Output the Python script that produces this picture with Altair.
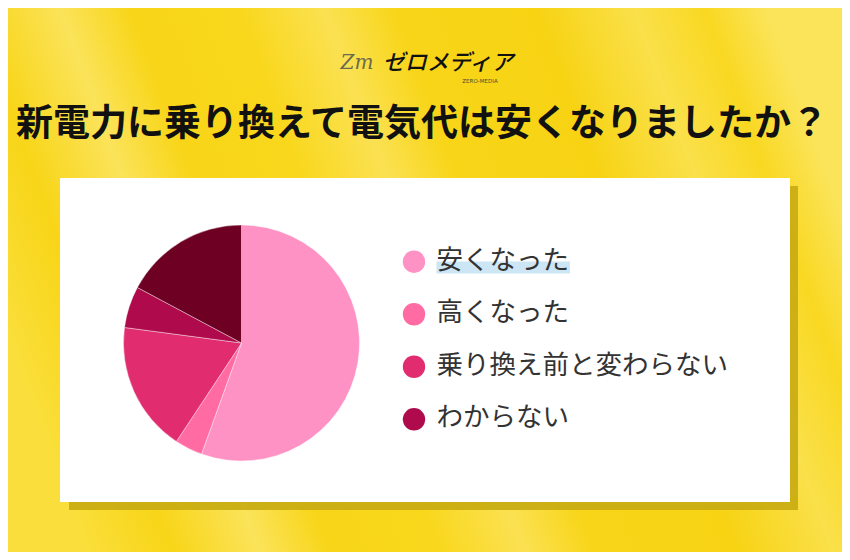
import altair as alt
import pandas as pd

# ---- data ----
categories = ["安くなった", "高くなった", "乗り換え前と変わらない", "わからない", "その他"]
shares = [55.5, 3.8, 17.8, 5.7, 17.2]
slice_colors = ["#FF92C4", "#FF6BA2", "#E12C70", "#AF0A4B", "#6D0023"]
legend_labels = ["安くなった", "高くなった", "乗り換え前と変わらない", "わからない"]
title_text = ["新電力に乗り換えて電気代は安くなりましたか？"]
logo_text = ["ゼロメディア"]
logo_mark = ["Zm"]
logo_sub = ["ZERO-MEDIA"]

pie_df = pd.DataFrame({"category": categories, "share": shares, "idx": list(range(len(categories)))})
legend_df = pd.DataFrame({"category": legend_labels})
one = pd.DataFrame({"a": [0]})

W, H = 834, 544
FONT = "Noto Sans CJK JP"

color_scale = alt.Scale(domain=categories, range=slice_colors)

# ---- background ----
stops = [
    (0.00, "#FADF3C"), (0.10, "#F8D518"), (0.20, "#FBE35A"), (0.28, "#F8D518"),
    (0.40, "#F9D71C"), (0.50, "#FBE152"), (0.58, "#F8D518"), (0.74, "#F7D314"),
    (0.85, "#FAE04A"), (0.93, "#F9D822"), (1.00, "#FBE45A"),
]
bg = alt.Chart(one).mark_rect(
    color=alt.LinearGradient(
        gradient="linear",
        stops=[alt.GradientStop(offset=o, color=c) for o, c in stops],
        x1=0, y1=0.62, x2=1, y2=0.38,
    )
).encode(x=alt.value(0), x2=alt.value(W), y=alt.value(0), y2=alt.value(H))

shadow = alt.Chart(one).mark_rect(color="#C6AB12", opacity=0.9).encode(
    x=alt.value(61), x2=alt.value(790), y=alt.value(178), y2=alt.value(502)
)
card = alt.Chart(one).mark_rect(color="#FFFFFF").encode(
    x=alt.value(52), x2=alt.value(782), y=alt.value(170), y2=alt.value(494)
)
highlight = alt.Chart(one).mark_rect(color="#CDE6F6").encode(
    x=alt.value(428.5), x2=alt.value(562), y=alt.value(253.5), y2=alt.value(265.5)
)

# ---- pie ----
pie = alt.Chart(pie_df).mark_arc(outerRadius=118, stroke="#FFFFFF", strokeWidth=0.4).encode(
    theta=alt.Theta("share:Q", stack=True),
    color=alt.Color("category:N", scale=color_scale, legend=None),
    order=alt.Order("idx:Q"),
    x=alt.value(233.5),
    y=alt.value(335),
)

# ---- custom legend ----
ypos = alt.Y("category:N", scale=alt.Scale(type="point", domain=legend_labels, range=[253.7, 411.3], padding=0), axis=None)
leg_dots = alt.Chart(legend_df).mark_circle(size=500, opacity=1).encode(
    x=alt.value(406),
    y=ypos,
    color=alt.Color("category:N", scale=color_scale, legend=None),
)
leg_text = alt.Chart(legend_df).mark_text(
    align="left", baseline="middle", font=FONT, fontSize=26.5, fontWeight="normal", color="#333333", dy=-1
).encode(x=alt.value(428.5), y=ypos, text="category:N")

# ---- header ----
title_df = pd.DataFrame({"t": title_text})
title = alt.Chart(title_df).mark_text(
    font=FONT, fontSize=37, fontWeight="bold", color="#111111", align="center", baseline="middle"
).encode(x=alt.value(414), y=alt.value(117), text="t:N")

logo = alt.Chart(pd.DataFrame({"t": logo_text})).mark_text(
    font=FONT, fontSize=22, fontStyle="italic", fontWeight=500, color="#111111", align="center", baseline="middle"
).encode(x=alt.value(440), y=alt.value(55), text="t:N")
logo_m = alt.Chart(pd.DataFrame({"t": logo_mark})).mark_text(
    font="DejaVu Serif", fontSize=20, fontStyle="italic", color="#6B6A4E", align="center", baseline="middle"
).encode(x=alt.value(349), y=alt.value(55), text="t:N")
logo_s = alt.Chart(pd.DataFrame({"t": logo_sub})).mark_text(
    font="DejaVu Sans", fontSize=5.5, color="#4A4A3A", align="center", baseline="middle"
).encode(x=alt.value(472), y=alt.value(73), text="t:N")

chart = alt.layer(
    bg, shadow, card, highlight, pie, leg_dots, leg_text, title, logo, logo_m, logo_s
).properties(
    width=W, height=H, padding=0, autosize=alt.AutoSizeParams(type="none")
).configure_view(strokeWidth=0)

chart.save("out.html", embed_options={"renderer": "svg", "actions": False})
